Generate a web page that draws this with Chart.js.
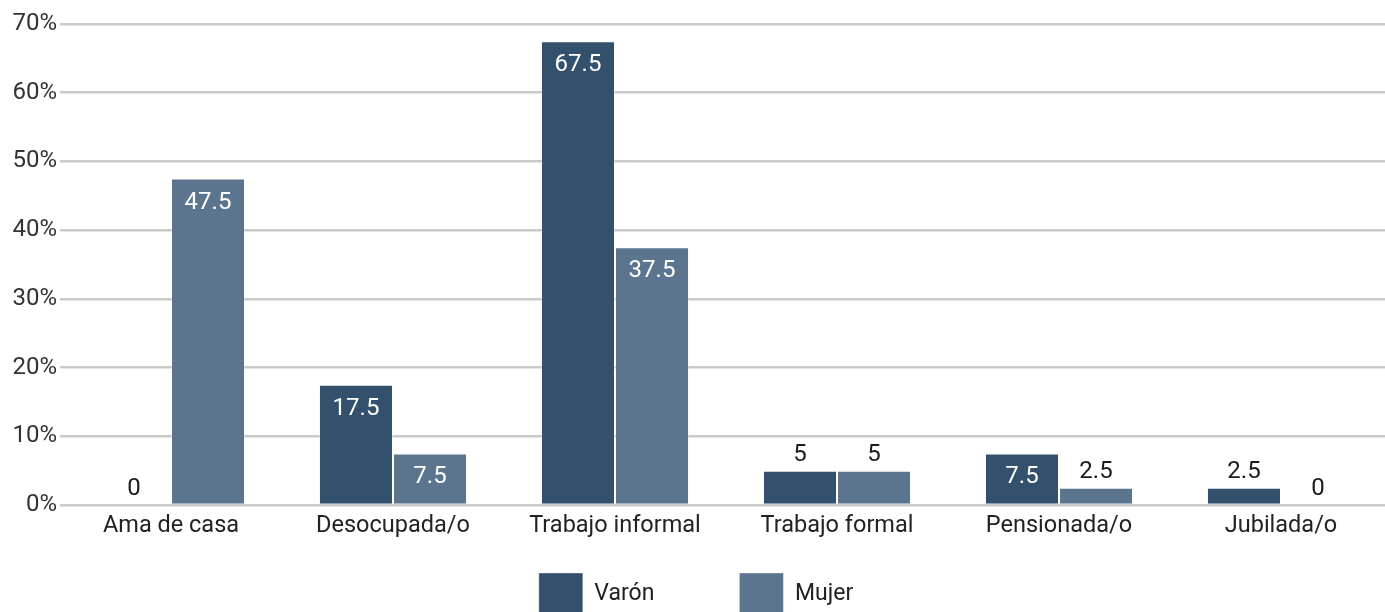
<!DOCTYPE html>
<html>
<head>
<meta charset="utf-8">
<script src="https://cdn.jsdelivr.net/npm/chart.js@4/dist/chart.umd.min.js"></script>
<style>
  html, body { margin: 0; padding: 0; background: #ffffff; overflow: hidden; }
  #wrap { position: absolute; left: 0; top: 0; width: 1400px; height: 625px; }
</style>
</head>
<body>
<div id="wrap"><canvas id="c" width="1400" height="625"></canvas></div>
<script>
// Categories and percentages by sex
const categories = ['Ama de casa', 'Desocupada/o', 'Trabajo informal', 'Trabajo formal', 'Pensionada/o', 'Jubilada/o'];
const varon = [0, 17.5, 67.5, 5, 7.5, 2.5];
const mujer = [47.5, 7.5, 37.5, 5, 2.5, 0];
const seriesNames = ['Varón', 'Mujer'];
const yTicks = [0, 10, 20, 30, 40, 50, 60, 70];

const DARK = '#33506d';
const LIGHT = '#5c758f';
const FONT = 'Roboto, "Liberation Sans", sans-serif';

// Value labels: white inside tall bars, dark above short ones
const valueLabels = {
  id: 'valueLabels',
  afterDatasetsDraw(chart) {
    const ctx = chart.ctx;
    ctx.save();
    ctx.font = '24px ' + FONT;
    ctx.textAlign = 'center';
    ctx.textBaseline = 'middle';
    chart.data.datasets.forEach((ds, di) => {
      const meta = chart.getDatasetMeta(di);
      meta.data.forEach((bar, i) => {
        const v = ds.data[i];
        const txt = String(v);
        if (v >= 7.5) {
          ctx.fillStyle = '#ffffff';
          ctx.fillText(txt, bar.x, bar.y + 24);
        } else {
          ctx.fillStyle = '#1a1a1a';
          ctx.fillText(txt, bar.x, bar.y - 16);
        }
      });
    });
    ctx.restore();
  }
};

new Chart(document.getElementById('c'), {
  type: 'bar',
  data: {
    labels: categories,
    datasets: [
      { label: seriesNames[0] + '\u2003\u2003\u2003\u2009', data: varon, backgroundColor: DARK,
        borderColor: 'rgba(255,255,255,0.35)', borderWidth: 1 },
      { label: seriesNames[1], data: mujer, backgroundColor: LIGHT,
        borderColor: 'rgba(255,255,255,0.35)', borderWidth: 1 }
    ]
  },
  options: {
    responsive: false,
    animation: false,
    events: [],
    layout: { padding: { top: 24, right: 8, left: 0, bottom: 0 } },
    datasets: { bar: { categoryPercentage: 0.667, barPercentage: 1.0 } },
    scales: {
      x: {
        grid: { display: false, drawTicks: false },
        border: { display: false },
        ticks: { color: '#222222', font: { family: FONT, size: 23.5 }, padding: 7, maxRotation: 0, autoSkip: false },
        afterFit(scale) { scale.height = 58; }
      },
      y: {
        min: 0, max: 70,
        afterBuildTicks(scale) { scale.ticks = yTicks.map(v => ({ value: v })); },
        grid: { color: '#cacaca', lineWidth: 2.5, drawTicks: false },
        border: { display: false },
        ticks: { color: '#333333', font: { family: FONT, size: 24 }, padding: 3,
                 callback: v => v + '%' },
        afterFit(scale) { scale.width = 60; }
      }
    },
    plugins: {
      legend: {
        position: 'bottom',
        labels: {
          boxWidth: 44, boxHeight: 42, padding: 10,
          color: '#222222', font: { family: FONT, size: 23 }
        }
      },
      tooltip: { enabled: false }
    }
  },
  plugins: [valueLabels]
});
</script>
</body>
</html>
